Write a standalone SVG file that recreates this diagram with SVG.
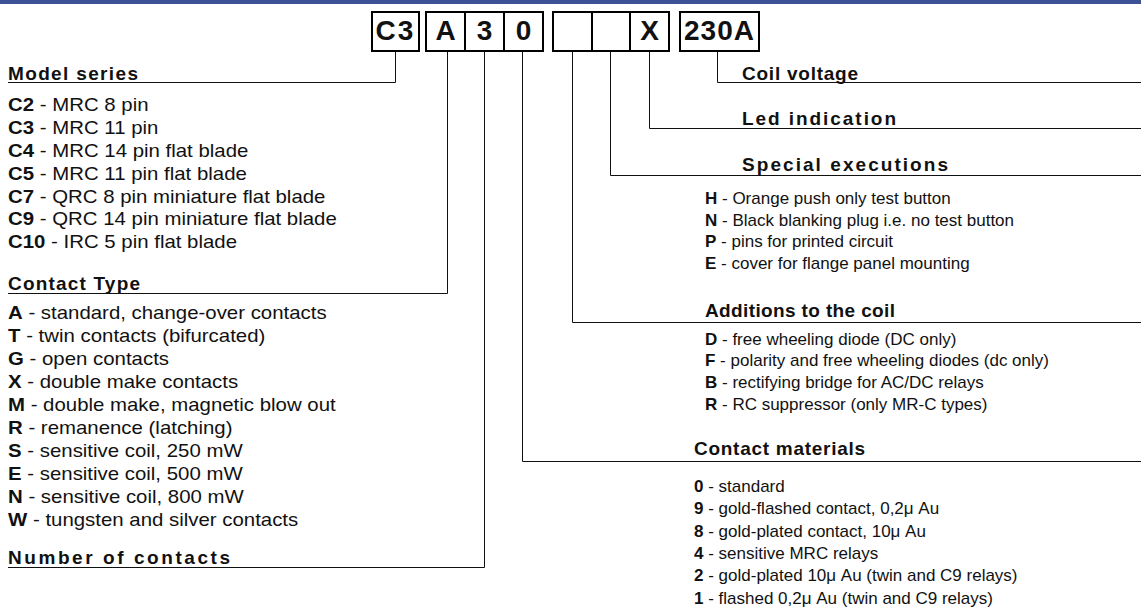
<svg xmlns="http://www.w3.org/2000/svg" width="1141" height="611" viewBox="0 0 1141 611">
<style>
text{font-family:"Liberation Sans",Arial,sans-serif;fill:#111}
.box{fill:#fff;stroke:#000;stroke-width:2}
.code{font-size:28px;font-weight:bold;text-anchor:middle}
.hd{font-size:19px;font-weight:bold}
.hl{font-size:19px;font-weight:bold}
.bl{font-size:17.5px}
.br{font-size:17px}
.k{font-weight:bold}
.conn path{fill:none;stroke:#111;stroke-width:1}
</style>
<rect x="0" y="0" width="1141" height="611" fill="#fff"/>
<rect x="0" y="0" width="1141" height="4" fill="#3d5296"/>

<g id="code">
<g id="box-c3"><rect class="box" x="372" y="12" width="47" height="39"/><text class="code" x="395.5" y="40" letter-spacing="2">C3</text></g>
<g id="box-a"><rect class="box" x="426" y="12" width="39" height="39"/><text class="code" x="445.5" y="40">A</text></g>
<g id="box-3"><rect class="box" x="465" y="12" width="39" height="39"/><text class="code" x="484.5" y="40">3</text></g>
<g id="box-0"><rect class="box" x="504" y="12" width="39" height="39"/><text class="code" x="523.5" y="40">0</text></g>
<g id="box-e1"><rect class="box" x="553" y="12" width="39" height="39"/></g>
<g id="box-e2"><rect class="box" x="592" y="12" width="38" height="39"/></g>
<g id="box-x"><rect class="box" x="630" y="12" width="39" height="39"/><text class="code" x="649.5" y="40">X</text></g>
<g id="box-230a"><rect class="box" x="680" y="12" width="79" height="39"/><text class="code" x="719.5" y="40" letter-spacing="1">230A</text></g>
</g>

<g class="conn" id="connectors">
<path d="M395.5 52V82.5H8"/>
<path d="M447.5 52V293.5H8"/>
<path d="M484.5 52V567.5H8"/>
<path d="M522.5 52V461.5H1141"/>
<path d="M572.5 52V322.5H1141"/>
<path d="M610.5 52V175.5H1141"/>
<path d="M649.5 52V128.5H1141"/>
<path d="M717.5 52V82.5H1141"/>
</g>

<g id="model-series">
<text class="hl" x="8" y="80" textLength="130" lengthAdjust="spacing">Model series</text>
<g transform="translate(8 0) scale(1.166 1)">
<text class="bl" x="0" y="111"><tspan class="k">C2</tspan> - MRC 8 pin</text>
<text class="bl" x="0" y="133.9"><tspan class="k">C3</tspan> - MRC 11 pin</text>
<text class="bl" x="0" y="156.8"><tspan class="k">C4</tspan> - MRC 14 pin flat blade</text>
<text class="bl" x="0" y="179.7"><tspan class="k">C5</tspan> - MRC 11 pin flat blade</text>
<text class="bl" x="0" y="202.6"><tspan class="k">C7</tspan> - QRC 8 pin miniature flat blade</text>
<text class="bl" x="0" y="225.5"><tspan class="k">C9</tspan> - QRC 14 pin miniature flat blade</text>
<text class="bl" x="0" y="248.4"><tspan class="k">C10</tspan> - IRC 5 pin flat blade</text>
</g>
</g>

<g id="contact-type">
<text class="hl" x="8" y="290" textLength="132" lengthAdjust="spacing">Contact Type</text>
<g transform="translate(8 0) scale(1.166 1)">
<text class="bl" x="0" y="319.5"><tspan class="k">A</tspan> - standard, change-over contacts</text>
<text class="bl" x="0" y="342.4"><tspan class="k">T</tspan> - twin contacts (bifurcated)</text>
<text class="bl" x="0" y="365.3"><tspan class="k">G</tspan> - open contacts</text>
<text class="bl" x="0" y="388.2"><tspan class="k">X</tspan> - double make contacts</text>
<text class="bl" x="0" y="411.1"><tspan class="k">M</tspan> - double make, magnetic blow out</text>
<text class="bl" x="0" y="434"><tspan class="k">R</tspan> - remanence (latching)</text>
<text class="bl" x="0" y="456.9"><tspan class="k">S</tspan> - sensitive coil, 250 mW</text>
<text class="bl" x="0" y="479.8"><tspan class="k">E</tspan> - sensitive coil, 500 mW</text>
<text class="bl" x="0" y="502.7"><tspan class="k">N</tspan> - sensitive coil, 800 mW</text>
<text class="bl" x="0" y="525.6"><tspan class="k">W</tspan> - tungsten and silver contacts</text>
</g>
</g>

<g id="number-of-contacts">
<text class="hl" x="8" y="564" textLength="222" lengthAdjust="spacing">Number of contacts</text>
</g>

<g id="coil-voltage">
<text class="hd" x="742" y="80" textLength="116" lengthAdjust="spacing">Coil voltage</text>
</g>

<g id="led-indication">
<text class="hd" x="742" y="125" textLength="154" lengthAdjust="spacing">Led indication</text>
</g>

<g id="special-executions">
<text class="hd" x="742" y="170.5" textLength="206" lengthAdjust="spacing">Special executions</text>
<text class="br" x="705" y="204"><tspan class="k">H</tspan> - Orange push only test button</text>
<text class="br" x="705" y="225.7"><tspan class="k">N</tspan> - Black blanking plug i.e. no test button</text>
<text class="br" x="705" y="247.4"><tspan class="k">P</tspan> - pins for printed circuit</text>
<text class="br" x="705" y="269.1"><tspan class="k">E</tspan> - cover for flange panel mounting</text>
</g>

<g id="additions">
<text class="hd" x="705" y="317" textLength="190" lengthAdjust="spacing">Additions to the coil</text>
<text class="br" x="705" y="344.5"><tspan class="k">D</tspan> - free wheeling diode (DC only)</text>
<text class="br" x="705" y="366.2"><tspan class="k">F</tspan> - polarity and free wheeling diodes (dc only)</text>
<text class="br" x="705" y="387.9"><tspan class="k">B</tspan> - rectifying bridge for AC/DC relays</text>
<text class="br" x="705" y="409.6"><tspan class="k">R</tspan> - RC suppressor (only MR-C types)</text>
</g>

<g id="contact-materials">
<text class="hd" x="694" y="455" textLength="171" lengthAdjust="spacing">Contact materials</text>
<text class="br" x="694" y="492"><tspan class="k">0</tspan> - standard</text>
<text class="br" x="694" y="514.3"><tspan class="k">9</tspan> - gold-flashed contact, 0,2μ Au</text>
<text class="br" x="694" y="536.6"><tspan class="k">8</tspan> - gold-plated contact, 10μ Au</text>
<text class="br" x="694" y="558.9"><tspan class="k">4</tspan> - sensitive MRC relays</text>
<text class="br" x="694" y="581.2"><tspan class="k">2</tspan> - gold-plated 10μ Au (twin and C9 relays)</text>
<text class="br" x="694" y="603.5"><tspan class="k">1</tspan> - flashed 0,2μ Au (twin and C9 relays)</text>
</g>
</svg>
